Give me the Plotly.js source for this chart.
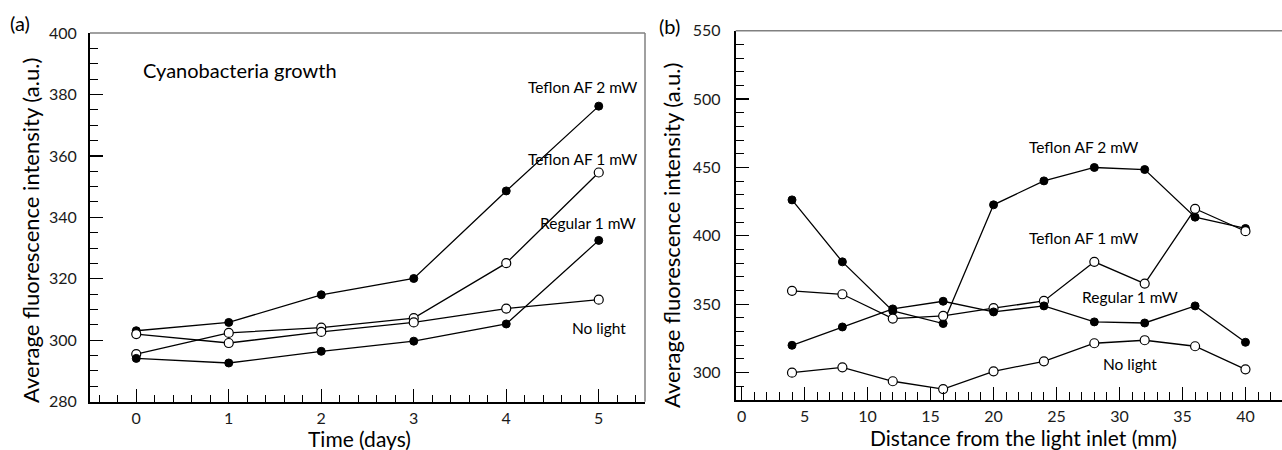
<!DOCTYPE html>
<html>
<head>
<meta charset="utf-8">
<script src="https://cdn.plot.ly/plotly-3.0.1.min.js"></script>
<style>html,body{margin:0;padding:0;background:#fff;}</style>
</head>
<body>
<div id="chart" style="width:1282px;height:450px;"></div>
<script>
// ---- Panel (a): growth over time ----
const days = [0, 1, 2, 3, 4, 5];
const growthTeflon2 = [303.1, 305.8, 314.8, 320.1, 348.6, 376.2];
const growthTeflon1 = [295.5, 302.4, 304.1, 307.2, 325.1, 354.6];
const growthRegular1 = [294.1, 292.6, 296.4, 299.7, 305.3, 332.5];
const growthNoLight = [302.0, 299.1, 302.7, 305.8, 310.3, 313.2];

// ---- Panel (b): profile along channel ----
const distance = [4, 8, 12, 16, 20, 24, 28, 32, 36, 40];
const distTeflon2 = [426.3, 381.0, 345.1, 335.9, 422.7, 440.2, 450.0, 448.5, 413.7, 405.4];
const distTeflon1 = [359.8, 357.3, 339.5, 341.5, 347.1, 352.4, 381.0, 365.1, 419.8, 403.4];
const distRegular1 = [320.0, 333.4, 346.6, 352.2, 344.4, 348.8, 337.1, 336.3, 348.8, 322.2];
const distNoLight = [300.0, 303.9, 293.7, 288.0, 301.0, 308.3, 321.5, 323.7, 319.3, 302.4];

const seriesNames = ["Teflon AF 2 mW", "Teflon AF 1 mW", "Regular 1 mW", "No light"];
const filled = [true, false, true, false];

const FONT = "Lato, 'Open Sans', sans-serif";

function mk(x, y, i, xa, ya) {
  return {
    x: x, y: y, xaxis: xa, yaxis: ya, type: "scatter", mode: "lines+markers",
    name: seriesNames[i], cliponaxis: false,
    line: {color: "#000", width: 1.3},
    marker: filled[i]
      ? {symbol: "circle", size: 8, color: "#000", line: {color: "#000", width: 1}}
      : {symbol: "circle", size: 9, color: "#fff", line: {color: "#000", width: 1.2}}
  };
}

const growth = [growthTeflon2, growthTeflon1, growthRegular1, growthNoLight];
const dist = [distTeflon2, distTeflon1, distRegular1, distNoLight];
const data = [];
growth.forEach((s, i) => data.push(mk(days, s, i, "x", "y")));
dist.forEach((s, i) => data.push(mk(distance, s, i, "x2", "y2")));

const W = 1282, H = 450;
const px = v => v / W;
const py = v => 1 - v / H;

const axisCommon = {
  showgrid: false, zeroline: false, showline: true, linecolor: "#000", linewidth: 2,
  ticks: "inside", tickcolor: "#000", tickwidth: 1.2, ticklen: 13,
  tickfont: {family: FONT, size: 16, color: "#1a1a1a"},
  fixedrange: true
};

function ann(text, x, y, size, extra) {
  return Object.assign({
    text: text, xref: "paper", yref: "paper", x: px(x), y: py(y),
    xanchor: "center", yanchor: "middle", showarrow: false,
    font: {family: FONT, size: size, color: "#000"}
  }, extra || {});
}

const layout = {
  width: W, height: H,
  margin: {l: 0, r: 0, t: 0, b: 0},
  paper_bgcolor: "#fff", plot_bgcolor: "#fff",
  showlegend: false,
  font: {family: FONT, color: "#1a1a1a"},
  xaxis: Object.assign({}, axisCommon, {
    domain: [px(90), px(645)], anchor: "y",
    range: [-0.5, 5.5], dtick: 1, tick0: 0,
    ticklabelstandoff: 1,
    minor: {ticks: "inside", dtick: 0.2, ticklen: 7, tickcolor: "#000", tickwidth: 1}
  }),
  yaxis: Object.assign({}, axisCommon, {
    domain: [py(401.7), py(33)], anchor: "x",
    range: [280, 400], dtick: 20, tick0: 0,
    ticklabelstandoff: 8,
    minor: {ticks: "inside", dtick: 5, ticklen: 8, tickcolor: "#000", tickwidth: 1}
  }),
  xaxis2: Object.assign({}, axisCommon, {
    domain: [px(735.7), 1], anchor: "y2",
    range: [-0.47, 42.9], dtick: 5, tick0: 0,
    ticklabelstandoff: 1,
    minor: {ticks: "inside", dtick: 1, ticklen: 8, tickcolor: "#000", tickwidth: 1}
  }),
  yaxis2: Object.assign({}, axisCommon, {
    domain: [py(400), py(30.7)], anchor: "x2",
    range: [280, 550], dtick: 50, tick0: 0,
    ticklabelstandoff: 10,
    minor: {ticks: "inside", dtick: 10, ticklen: 8, tickcolor: "#000", tickwidth: 1}
  }),
  shapes: [
    {type: "line", xref: "x domain", yref: "y domain", x0: 0, x1: 1, y0: 1, y1: 1, line: {color: "#808080", width: 1.5}},
    {type: "line", xref: "x domain", yref: "y domain", x0: 1, x1: 1, y0: 0, y1: 1, line: {color: "#808080", width: 1.5}},
    {type: "line", xref: "x2 domain", yref: "y2 domain", x0: 0, x1: 1, y0: 1, y1: 1, line: {color: "#808080", width: 1.5}}
  ],
  annotations: [
    ann("(a)", 20, 23, 20),
    ann("(b)", 669, 26, 20),
    ann("Average fluorescence intensity (a.u.)", 30, 231, 22, {textangle: -90}),
    ann("Average fluorescence intensity (a.u.)", 671, 236, 22, {textangle: -90}),
    ann("Time (days)", 359, 438, 21),
    ann("Distance from the light inlet (mm)", 1023, 437.5, 21),
    ann("Cyanobacteria growth", 141, 70, 20, {xanchor: "left"}),
    // panel (a) series labels
    ann("Teflon AF 2 mW", 582.5, 87, 15.5),
    ann("Teflon AF 1 mW", 582.5, 159, 15.5),
    ann("Regular 1 mW", 588, 223, 15.5),
    ann("No light", 598.5, 328, 15.5),
    // panel (b) series labels
    ann("Teflon AF 2 mW", 1083, 147, 15.5),
    ann("Teflon AF 1 mW", 1083, 238, 15.5),
    ann("Regular 1 mW", 1130, 297, 15.5),
    ann("No light", 1130, 364, 15.5)
  ]
};

Plotly.newPlot("chart", data, layout, {displayModeBar: false, staticPlot: true});
</script>
</body>
</html>
